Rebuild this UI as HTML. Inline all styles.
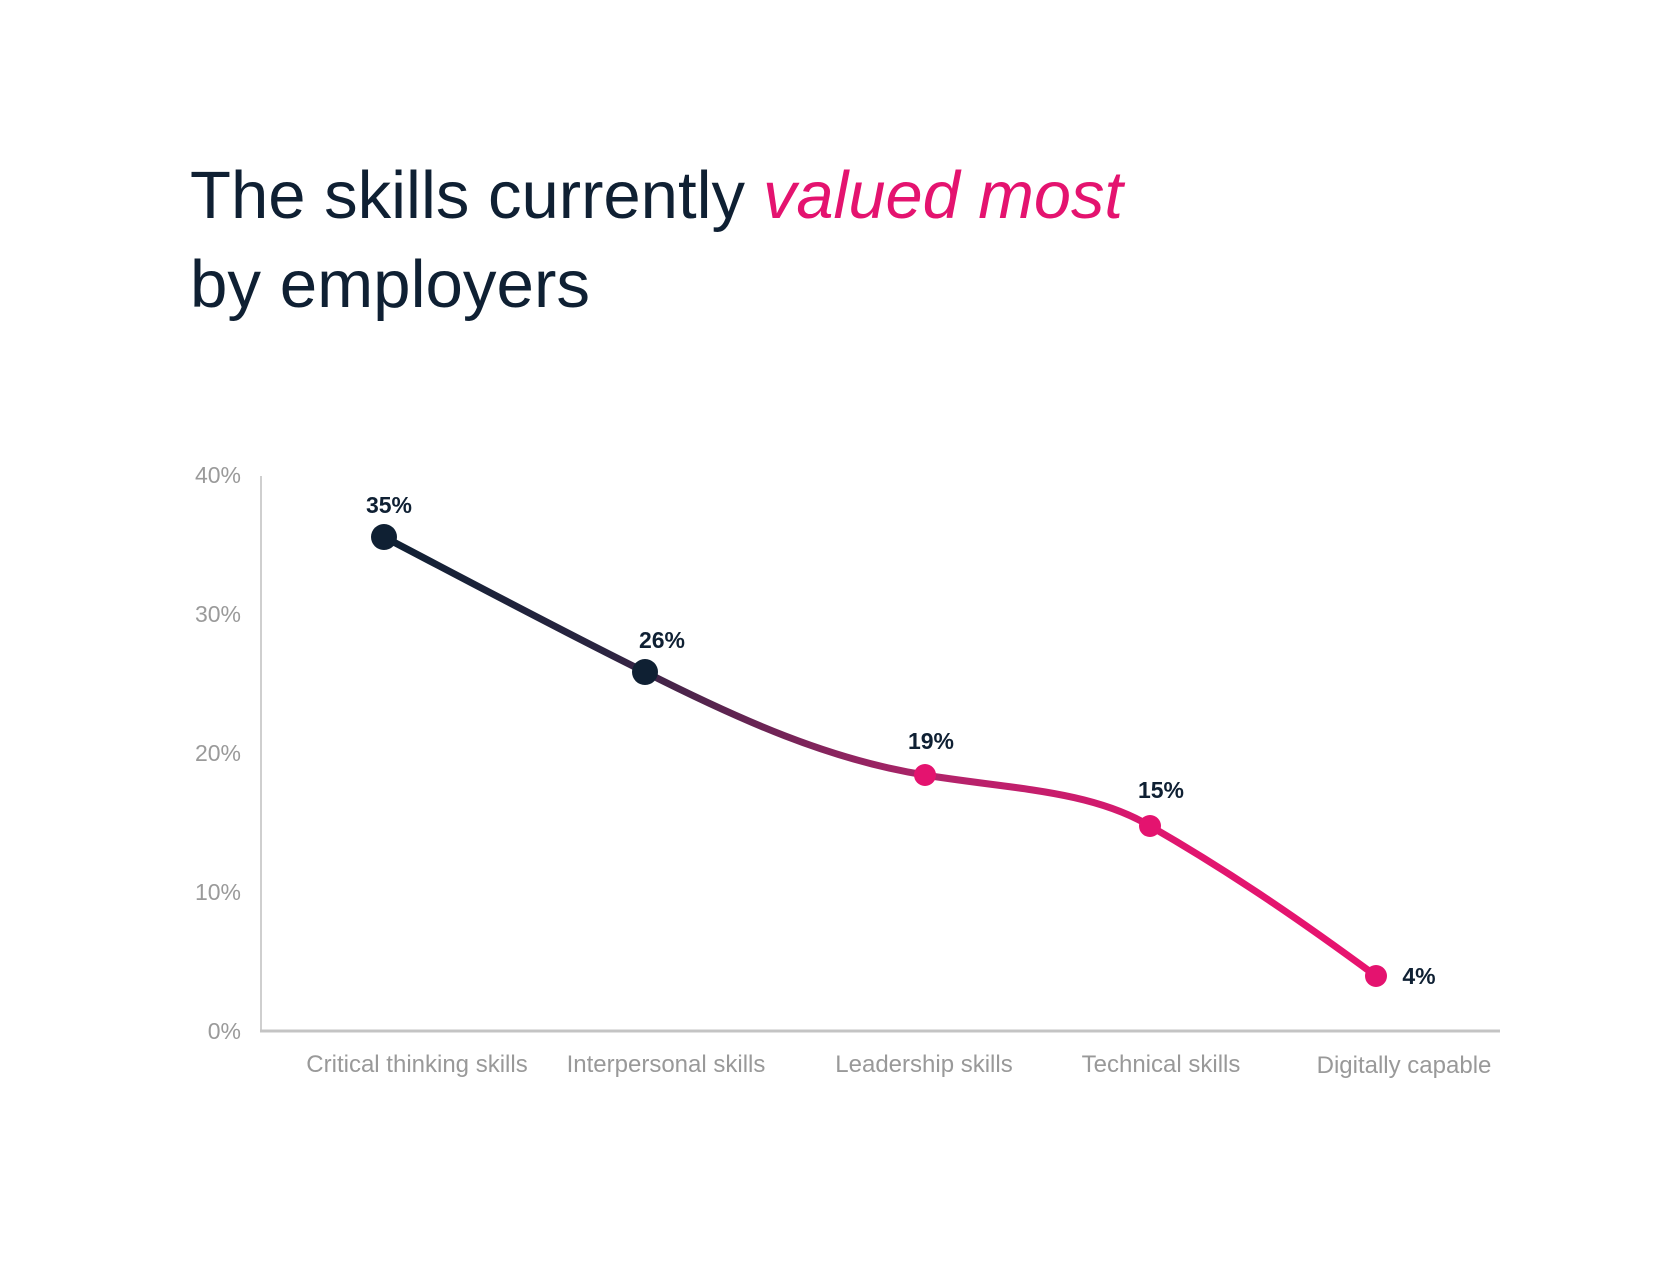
<!DOCTYPE html>
<html><head><meta charset="utf-8"><style>
html,body{margin:0;padding:0;background:#fff;}
svg{display:block;}
</style></head><body>
<svg width="1667" height="1276" viewBox="0 0 1667 1276" xmlns="http://www.w3.org/2000/svg" font-family="Liberation Sans, sans-serif">
<defs>
<linearGradient id="g" gradientUnits="userSpaceOnUse" x1="384" y1="0" x2="1376" y2="0">
<stop offset="0" stop-color="#0f2033"/>
<stop offset="0.22" stop-color="#2a2440"/>
<stop offset="0.55" stop-color="#b0246a"/>
<stop offset="0.8" stop-color="#e0166f"/>
<stop offset="1" stop-color="#e8136f"/>
</linearGradient>
</defs>
<text x="190" y="218" font-size="67" fill="#0f2033" textLength="555" lengthAdjust="spacingAndGlyphs">The skills currently</text>
<text x="763" y="218" font-size="67" fill="#e4136f" font-style="italic" textLength="360" lengthAdjust="spacingAndGlyphs">valued most</text>
<text x="190" y="307" font-size="67" fill="#0f2033" textLength="400" lengthAdjust="spacingAndGlyphs">by employers</text>

<g font-size="23" fill="#9a9a9a" text-anchor="end">
<text x="241" y="483">40%</text>
<text x="241" y="622">30%</text>
<text x="241" y="761">20%</text>
<text x="241" y="900">10%</text>
<text x="241" y="1039">0%</text>
</g>
<line x1="261" y1="476" x2="261" y2="1031" stroke="#cfcfcf" stroke-width="2"/>
<line x1="260" y1="1031" x2="1500" y2="1031" stroke="#c4c4c4" stroke-width="3"/>

<g font-size="24" fill="#999" text-anchor="middle">
<text x="417" y="1072">Critical thinking skills</text>
<text x="666" y="1072">Interpersonal skills</text>
<text x="924" y="1072">Leadership skills</text>
<text x="1161" y="1072">Technical skills</text>
<text x="1404" y="1073">Digitally capable</text>
</g>

<path d="M384,537 C470,582 560,630 645,672 C740,720 830,760 925,775 C1010,789 1090,790 1150,826 C1230,872 1300,920 1376,976" fill="none" stroke="url(#g)" stroke-width="7" stroke-linecap="round"/>

<circle cx="384" cy="537" r="13" fill="#0f2033"/>
<circle cx="645" cy="672" r="13" fill="#0f2033"/>
<circle cx="925" cy="775" r="11" fill="#e4136f"/>
<circle cx="1150" cy="826" r="11" fill="#e4136f"/>
<circle cx="1376" cy="976" r="11" fill="#e4136f"/>

<g font-size="23" font-weight="bold" fill="#0f2033" text-anchor="middle">
<text x="389" y="513">35%</text>
<text x="662" y="648">26%</text>
<text x="931" y="749">19%</text>
<text x="1161" y="798">15%</text>
<text x="1419" y="984">4%</text>
</g>
</svg>
</body></html>
